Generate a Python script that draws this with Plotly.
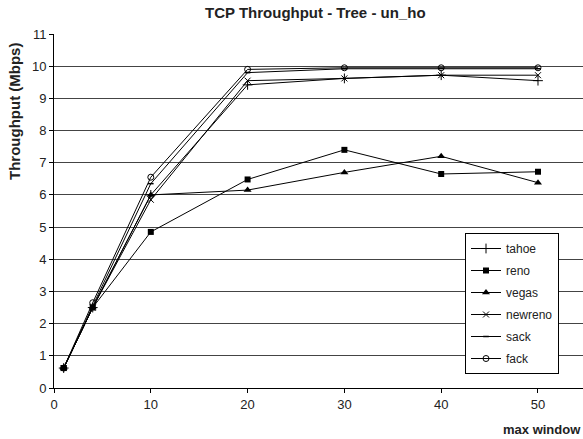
import plotly.graph_objects as go

x_window = [1, 4, 10, 20, 30, 40, 50]
tahoe = [0.62, 2.5, 6.0, 9.42, 9.62, 9.72, 9.55]
reno = [0.62, 2.5, 4.85, 6.48, 7.4, 6.65, 6.72]
vegas = [0.62, 2.5, 6.0, 6.15, 6.7, 7.2, 6.38]
newreno = [0.62, 2.5, 5.85, 9.55, 9.62, 9.72, 9.72]
sack = [0.62, 2.55, 6.35, 9.8, 9.92, 9.93, 9.92]
fack = [0.62, 2.65, 6.55, 9.9, 9.95, 9.95, 9.95]

series = [
    ("tahoe", tahoe, dict(symbol="cross-thin", size=7, color="black", line=dict(width=1, color="black"))),
    ("reno", reno, dict(symbol="square", size=6, color="black")),
    ("vegas", vegas, dict(symbol="triangle-up", size=7, color="black")),
    ("newreno", newreno, dict(symbol="x-thin", size=6, color="black", line=dict(width=1, color="black"))),
    ("sack", sack, dict(symbol="line-ew", size=4, color="black", line=dict(width=1.5, color="black"))),
    ("fack", fack, dict(symbol="circle-open", size=6, color="black", line=dict(width=1, color="black"))),
]

fig = go.Figure()
for name, ys, mk in series:
    fig.add_trace(go.Scatter(x=x_window, y=ys, name=name, mode="lines+markers", legendgroup=name,
                             line=dict(color="black", width=1), marker=mk))

font = "Liberation Sans, Arial, sans-serif"
fig.update_layout(
    width=583, height=439,
    margin=dict(l=54, r=0, t=34, b=51),
    paper_bgcolor="white", plot_bgcolor="white",
    font=dict(family=font, size=13, color="#222"),
    showlegend=True,
    legend=dict(x=(465 - 54) / 529, y=(388 - 233) / 354, xanchor="left", yanchor="top",
                bordercolor="black", borderwidth=1, bgcolor="white",
                font=dict(size=12, color="#222"), itemwidth=30,
                traceorder="grouped", tracegroupgap=3),
    xaxis=dict(range=[0, 54.65], tickmode="array", tickvals=[0, 10, 20, 30, 40, 50],
               showgrid=False, zeroline=False, showline=True, linecolor="black", linewidth=1,
               ticks="outside", ticklen=4, tickcolor="black", tickfont=dict(size=13)),
    yaxis=dict(range=[0, 11], dtick=1, showgrid=True, gridcolor="#444", gridwidth=1,
               zeroline=False, showline=True, linecolor="black", linewidth=1,
               ticks="outside", ticklen=4, tickcolor="black", tickfont=dict(size=13)),
    annotations=[
        dict(text="<b>TCP Throughput - Tree - un_ho</b>", x=(315 - 54) / 529, y=(388 - 13) / 354,
             xref="paper", yref="paper", xanchor="center", yanchor="middle",
             showarrow=False, font=dict(size=15, color="#222")),
        dict(text="<b>Throughput (Mbps)</b>", x=(15 - 54) / 529, y=(388 - 112) / 354,
             xref="paper", yref="paper", xanchor="center", yanchor="middle",
             textangle=-90, showarrow=False, font=dict(size=15, color="#222")),
        dict(text="<b>max window</b>", x=1.0, y=(388 - 430) / 354, xref="paper", yref="paper",
             xanchor="right", yanchor="middle", showarrow=False, font=dict(size=13, color="#222")),
    ],
)
fig.write_html("out.html", config={"displayModeBar": False},
               post_script="document.body.style.margin='0';")
